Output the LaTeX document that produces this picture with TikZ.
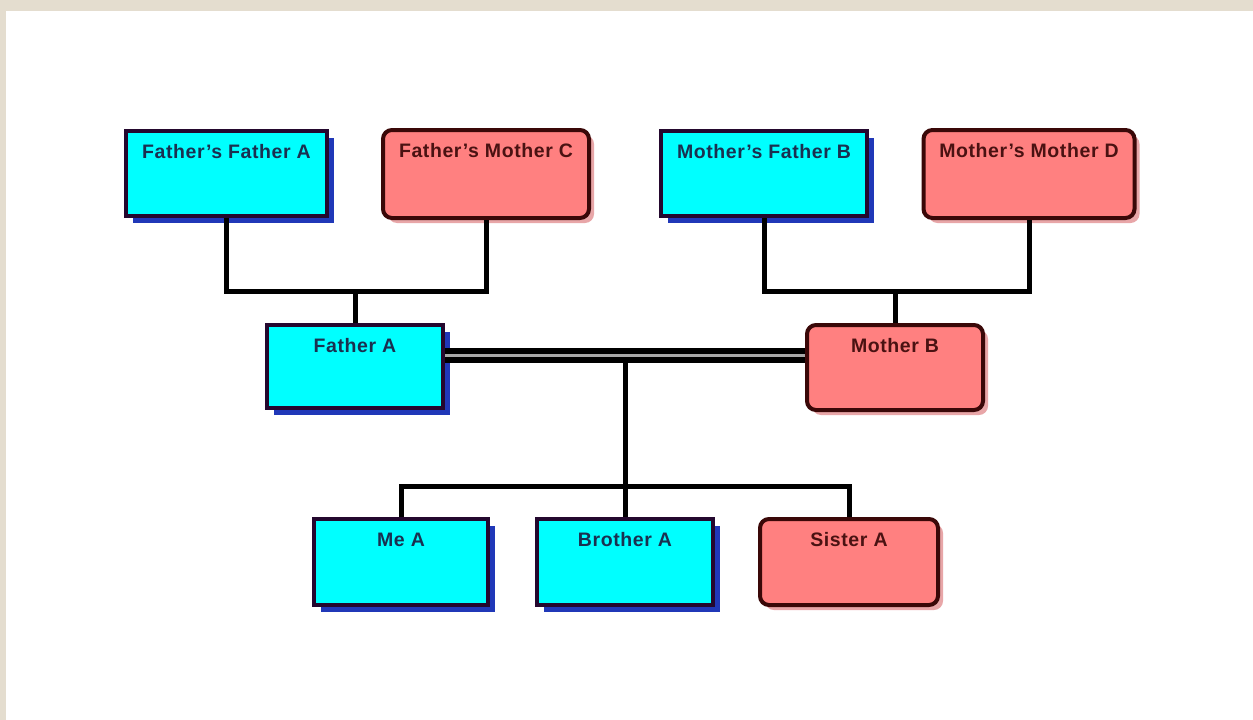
\documentclass[tikz,border=0pt]{standalone}
\usepackage{fontspec}
\setmainfont{Liberation Sans}
\usetikzlibrary{shadows}
\definecolor{bgbeige}{HTML}{E4DDCF}
\definecolor{cyanfill}{HTML}{00FFFF}
\definecolor{pinkfill}{HTML}{FF8080}
\definecolor{maleline}{HTML}{24082E}
\definecolor{femaleline}{HTML}{3A0808}
\definecolor{shadowblue}{HTML}{2038B8}
\definecolor{shadowpink}{HTML}{E8A6A8}
\definecolor{maletext}{HTML}{1A3050}
\definecolor{femaletext}{HTML}{4A1212}
\definecolor{midgray}{HTML}{A8A8A8}
\begin{document}
\begin{tikzpicture}[x=1pt,y=-1pt,
  malebox/.style={draw=maleline, fill=cyanfill, line width=4pt, inner sep=0pt,
    drop shadow={shadow xshift=7pt, shadow yshift=-7pt, fill=shadowblue, opacity=1}},
  femalebox/.style={draw=femaleline, fill=pinkfill, line width=4pt, inner sep=0pt, rounded corners=9pt,
    drop shadow={shadow xshift=5pt, shadow yshift=-5pt, fill=shadowpink, opacity=1}},
  lbl/.style={font=\bfseries\fontsize{19.5}{19.5}\selectfont\addfontfeatures{LetterSpace=3}, anchor=center, yshift=-23pt, inner sep=0pt},
  mlbl/.style={lbl, text=maletext},
  flbl/.style={lbl, text=femaletext},
  conn/.style={line width=5pt, black}
]
\useasboundingbox (0,0) rectangle (1253,720);
\fill[bgbeige] (0,0) rectangle (1253,720);
\fill[white] (6,11) rectangle (1253,720);

% grandparents
\node[malebox, minimum width=201pt, minimum height=85pt,
  label={[mlbl, name=FFt]north:Father's Father A}] (FF) at (226.5,173.5) {};
\node[femalebox, minimum width=206pt, minimum height=88pt,
  label={[flbl, name=FMt]north:Father's Mother C}] (FM) at (486,174) {};
\node[malebox, minimum width=206pt, minimum height=85pt,
  label={[mlbl, name=MFt]north:Mother's Father B}] (MF) at (764,173.5) {};
\node[femalebox, minimum width=211pt, minimum height=88pt,
  label={[flbl, name=MMt]north:Mother's Mother D}] (MM) at (1029,174) {};

% parents
\node[malebox, minimum width=176pt, minimum height=83pt,
  label={[mlbl, name=FAt]north:Father A}] (FA) at (355,366.5) {};
\node[femalebox, minimum width=176pt, minimum height=85pt,
  label={[flbl, name=MBt]north:Mother B}] (MB) at (895,367.5) {};

% children
\node[malebox, minimum width=174pt, minimum height=86pt,
  label={[mlbl, name=MEt]north:Me A}] (ME) at (401,562) {};
\node[malebox, minimum width=176pt, minimum height=86pt,
  label={[mlbl, name=BRt]north:Brother A}] (BR) at (625,562) {};
\node[femalebox, minimum width=178pt, minimum height=86pt,
  label={[flbl, name=SIt]north:Sister A}] (SI) at (849,562) {};

% junction points
\coordinate (jF) at (355,291);
\coordinate (jM) at (895,291);
\coordinate (jMar) at (625,355.5);
\coordinate (jK) at (625,486);

% connectors
\draw[conn] (FF.south) |- (jF) -| (FM.south);
\draw[conn] (jF) -- (FA.north);
\draw[conn] (MF.south) |- (jM) -| (MM.south);
\draw[conn] (jM) -- (MB.north);
\draw[conn] (jMar) -- (jK);
\draw[conn] (ME.north) |- (jK) -| (SI.north);
\draw[conn] (jK) -- (BR.north);
\draw[line width=6pt, black, double=midgray, double distance=3pt]
  (FA.east |- jMar) -- (MB.west |- jMar);
\end{tikzpicture}
\end{document}
